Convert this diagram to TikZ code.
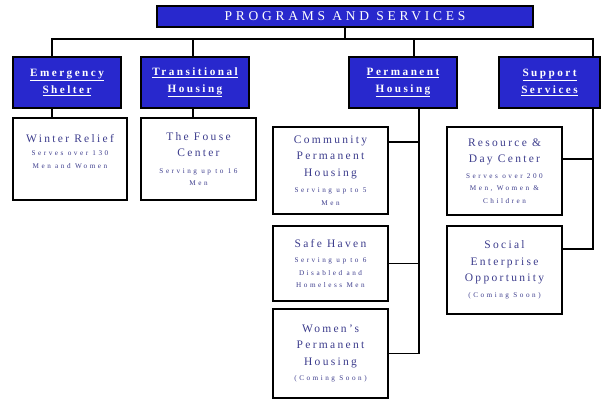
\documentclass[tikz,border=0pt]{standalone}
\usepackage{fontspec}
\setmainfont{Liberation Serif}
\definecolor{boxblue}{RGB}{40,40,205}
\definecolor{itemink}{RGB}{60,60,140}
\newcommand{\itemhead}{\fontsize{11.5}{16.5}\selectfont\addfontfeature{LetterSpace=20}}
\newcommand{\itemnote}{\fontsize{7.2}{12.5}\selectfont\addfontfeature{LetterSpace=35}}
\newcommand{\cathead}[2]{\underline{#1}\\\underline{#2}}
\begin{document}
\begin{tikzpicture}[
	x=1pt, y=-1pt,
	line width=1.2pt,
	titlebox/.style={draw=black, fill=boxblue, minimum width=376pt, minimum height=21pt,
		inner sep=0pt, text=white, font=\fontsize{13.5}{15}\selectfont\addfontfeature{LetterSpace=28}},
	catbox/.style={draw=black, fill=boxblue, minimum width=108pt, minimum height=51pt,
		inner sep=0pt, align=center, text=white,
		font=\bfseries\fontsize{11.2}{17}\selectfont\addfontfeature{LetterSpace=22}},
	itembox/.style={draw=black, minimum width=115pt, inner sep=0pt, text=itemink}]
   \useasboundingbox (0,0) rectangle (601,400);
   % top and categories
   \node[titlebox] (title) at (345,16.5) {PROGRAMS AND SERVICES};
   \node[catbox] (emerg) at (67,82.5) {\cathead{Emergency}{Shelter}};
   \node[catbox] (trans) at (195,82.5) {\cathead{Transitional}{Housing}};
   \node[catbox] (perm) at (403,82.5) {\cathead{Permanent}{Housing}};
   \node[catbox, minimum width=101pt] (supp) at (549.5,82.5) {\cathead{Support}{Services}};
   % programs
   \node[itembox, minimum width=114pt, minimum height=82pt] (winter) at (70,159)
      {\parbox{112pt}{\centering\itemhead Winter Relief\par\vspace{1pt}
       \itemnote Serves over 130\par Men and Women\par\vspace{16pt}}};
   \node[itembox, minimum height=82pt] (fouse) at (198.5,159)
      {\parbox{112pt}{\centering\itemhead The Fouse\par Center\par\vspace{4pt}
       \itemnote Serving up to 16\par Men\par}};
   \node[itembox, minimum height=87pt] (community) at (330.5,170.5)
      {\parbox{112pt}{\centering\itemhead Community\par Permanent\par Housing\par\vspace{4pt}
       \itemnote Serving up to 5\par Men\par}};
   \node[itembox, minimum height=75pt] (safe) at (330.5,263.5)
      {\parbox{112pt}{\centering\itemhead Safe Haven\par\vspace{3pt}
       \itemnote Serving up to 6\par Disabled and\par Homeless Men\par}};
   \node[itembox, minimum height=89pt] (womens) at (330.5,353.5)
      {\parbox{112pt}{\centering\itemhead Women's\par Permanent\par Housing\par\vspace{3pt}
       \itemnote (Coming Soon)\par}};
   \node[itembox, minimum height=88pt] (resource) at (504.5,171)
      {\parbox{112pt}{\centering\itemhead Resource \&\par Day Center\par\vspace{3pt}
       \itemnote Serves over 200\par Men, Women \&\par Children\par}};
   \node[itembox, minimum height=88pt] (social) at (504.5,270)
      {\parbox{112pt}{\centering\itemhead Social\par Enterprise\par Opportunity\par\vspace{3pt}
       \itemnote (Coming Soon)\par}};
   % join points
   \coordinate (busL) at (52,39);
   \coordinate (busR) at (593,39);
   \coordinate (transx) at (193,39);
   \coordinate (permx) at (414,39);
   \coordinate (permline) at (419,108);
   \coordinate (commjoin) at ([yshift=28.5pt]community.east);
   \coordinate (resjoin) at ([yshift=12pt]resource.east);
   \coordinate (socjoin) at ([yshift=21pt]social.east);
   % connectors
   \draw (title.south) -- (title.south |- busL);
   \draw (busL |- emerg.north) -- (busL) -- (busR) -- (busR |- supp.north);
   \draw (transx) -- (transx |- trans.north);
   \draw (permx) -- (permx |- perm.north);
   \draw (busL |- emerg.south) -- (busL |- winter.north);
   \draw (transx |- trans.south) -- (transx |- fouse.north);
   \draw (permline |- perm.south) -- (permline |- womens.east) -- (womens.east);
   \draw (safe.east) -- (safe.east -| permline);
   \draw (commjoin) -- (commjoin -| permline);
   \draw (busR |- supp.south) -- (busR |- socjoin) -- (socjoin);
   \draw (resjoin) -- (resjoin -| busR);
\end{tikzpicture}
\end{document}
